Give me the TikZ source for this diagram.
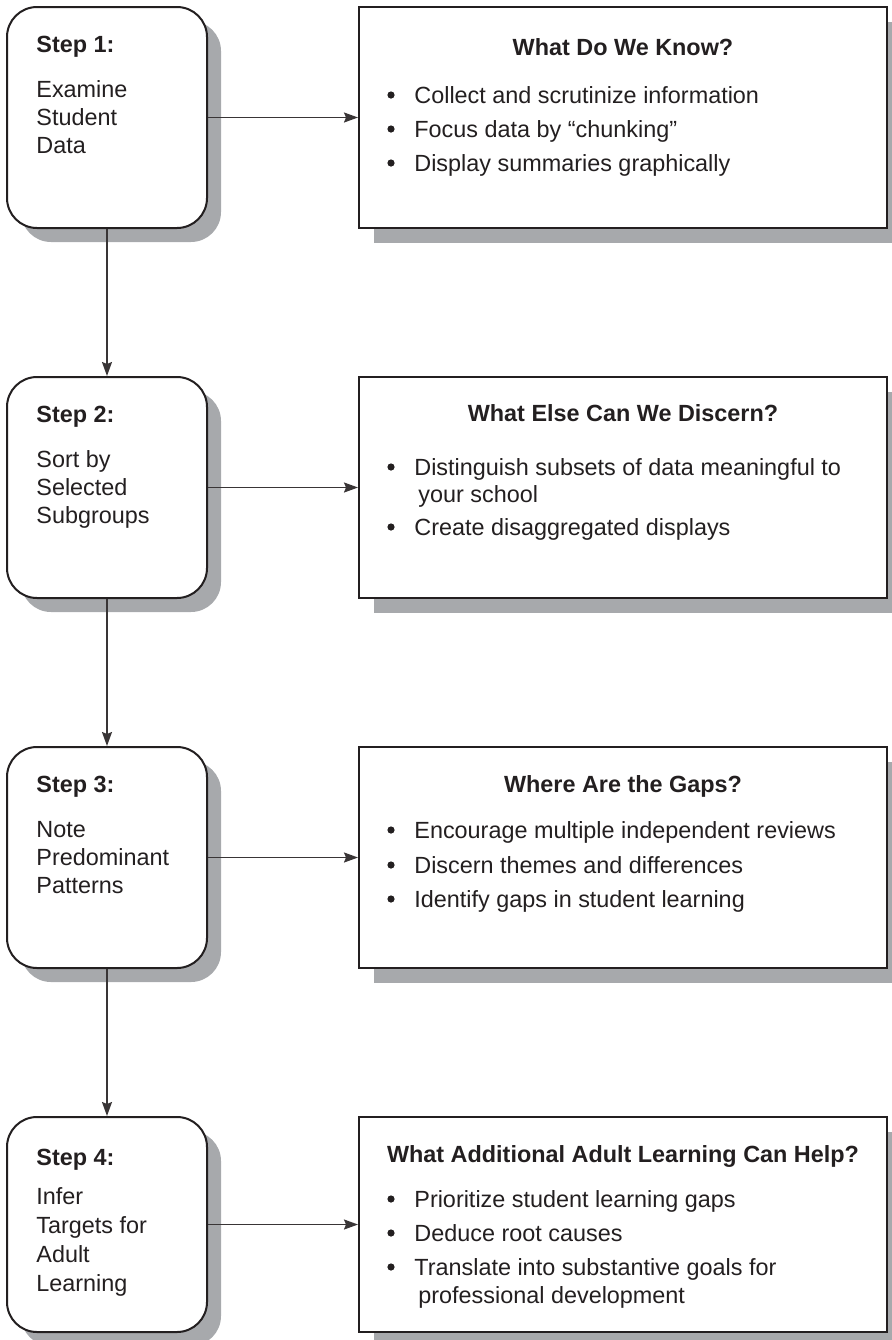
\documentclass[tikz,border=0pt]{standalone}
\usepackage{fontspec}
\setmainfont{Liberation Sans}
\usetikzlibrary{calc,positioning,shadows,arrows.meta}
\definecolor{shade}{HTML}{A7A9AC}
\definecolor{ink}{HTML}{231F20}
\newcommand{\diagfont}{\fontsize{11.7}{14}\selectfont}

\begin{document}
\begin{tikzpicture}[x=0.5pt,y=-0.5pt,
	every node/.style={font=\diagfont, text=ink},
	stepbox/.style={draw=ink, line width=1pt, fill=white, rounded corners=15pt,
		minimum width=100pt, minimum height=110.5pt, inner sep=0pt,
		drop shadow={shadow xshift=7pt, shadow yshift=-7pt, opacity=1, fill=shade}},
	infobox/.style={draw=ink, line width=1pt, fill=white,
		minimum width=264pt, minimum height=110.5pt, inner sep=0pt,
		drop shadow={shadow xshift=7.5pt, shadow yshift=-7.5pt, opacity=1, fill=shade}},
	txt/.style={anchor=base west, inner sep=0pt},
	head/.style={txt, font=\diagfont\bfseries},
	ttl/.style={anchor=base, inner sep=0pt, font=\diagfont\bfseries},
	bul/.style={circle, fill=ink, inner sep=0pt, minimum size=3.6pt},
	flow/.style={-{Stealth[length=7pt, width=5pt, inset=1pt]}, line width=0.8pt, draw=ink!90}]

	\useasboundingbox (0,0) rectangle (891,1340);

	% boxes
	\node[stepbox] (step1) at (107,117.5) {};
	\node[stepbox] (step2) at (107,487.5) {};
	\node[stepbox] (step3) at (107,857.5) {};
	\node[stepbox, minimum height=107.5pt] (step4) at (107,1224.5) {};

	\node[infobox] (info1) at (623,117.5) {};
	\node[infobox] (info2) at (623,487.5) {};
	\node[infobox] (info3) at (623,857.5) {};
	\node[infobox, minimum height=107.5pt] (info4) at (623,1224.5) {};

	% connectors
	\draw[flow] (step1.east) -- (step1.east -| info1.west);
	\draw[flow] (step2.east) -- (step2.east -| info2.west);
	\draw[flow] (step3.east) -- (step3.east -| info3.west);
	\draw[flow] (step4.east) -- (step4.east -| info4.west);
	\draw[flow] (step1.south) -- (step2.north);
	\draw[flow] (step2.south) -- (step3.north);
	\draw[flow] (step3.south) -- (step4.north);

	% step 1
	\node[head] (s1head) at (36,52) {Step 1:};
	\node[txt] (s1a) at (36,97) {Examine};
	\node[txt] (s1b) at (36,125) {Student};
	\node[txt] (s1c) at (36,153) {Data};

	% step 2
	\node[head] (s2head) at (36,422) {Step 2:};
	\node[txt] (s2a) at (36,467) {Sort by};
	\node[txt] (s2b) at (36,495) {Selected};
	\node[txt] (s2c) at (36,523) {Subgroups};

	% step 3
	\node[head] (s3head) at (36,792) {Step 3:};
	\node[txt] (s3a) at (36,837) {Note};
	\node[txt] (s3b) at (36,865) {Predominant};
	\node[txt] (s3c) at (36,893) {Patterns};

	% step 4
	\node[head] (s4head) at (36,1165) {Step 4:};
	\node[txt] (s4a) at (36,1204) {Infer};
	\node[txt] (s4b) at (36,1233) {Targets for};
	\node[txt] (s4c) at (36,1262) {Adult};
	\node[txt] (s4d) at (36,1291) {Learning};

	% info 1
	\node[ttl] (i1head) at (623,55) {What Do We Know?};
	\node[bul] (i1b1) at (391,95) {};
	\node[txt] (i1t1) at (414,103) {Collect and scrutinize information};
	\node[bul] (i1b2) at (391,129) {};
	\node[txt] (i1t2) at (414,137) {Focus data by “chunking”};
	\node[bul] (i1b3) at (391,163) {};
	\node[txt] (i1t3) at (414,171) {Display summaries graphically};

	% info 2
	\node[ttl] (i2head) at (623,421) {What Else Can We Discern?};
	\node[bul] (i2b1) at (391,467) {};
	\node[txt] (i2t1) at (414,475) {Distinguish subsets of data meaningful to};
	\node[txt] (i2t1b) at (418,502) {your school};
	\node[bul] (i2b2) at (391,527) {};
	\node[txt] (i2t2) at (414,535) {Create disaggregated displays};

	% info 3
	\node[ttl] (i3head) at (623,792) {Where Are the Gaps?};
	\node[bul] (i3b1) at (391,830) {};
	\node[txt] (i3t1) at (414,838) {Encourage multiple independent reviews};
	\node[bul] (i3b2) at (391,865) {};
	\node[txt] (i3t2) at (414,873) {Discern themes and differences};
	\node[bul] (i3b3) at (391,899) {};
	\node[txt] (i3t3) at (414,907) {Identify gaps in student learning};

	% info 4
	\node[ttl] (i4head) at (623,1162) {What Additional Adult Learning Can Help?};
	\node[bul] (i4b1) at (391,1199) {};
	\node[txt] (i4t1) at (414,1207) {Prioritize student learning gaps};
	\node[bul] (i4b2) at (391,1233) {};
	\node[txt] (i4t2) at (414,1241) {Deduce root causes};
	\node[bul] (i4b3) at (391,1267) {};
	\node[txt] (i4t3) at (414,1275) {Translate into substantive goals for};
	\node[txt] (i4t3b) at (418,1303) {professional development};
\end{tikzpicture}
\end{document}
